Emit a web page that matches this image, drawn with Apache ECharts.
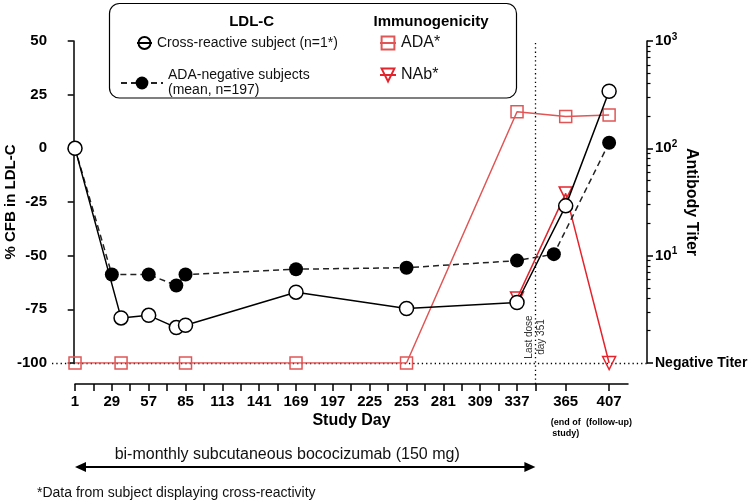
<!DOCTYPE html>
<html><head><meta charset="utf-8">
<script src="https://cdn.jsdelivr.net/npm/echarts@6/dist/echarts.min.js"></script>
<style>html,body{margin:0;padding:0;background:#fff}#c{width:750px;height:503px}</style>
</head><body><div id="c"></div>
<script>
// ---- data ----
const crossName = 'Cross-reactive subject (n=1*)';
const meanName = 'ADA-negative subjects\n(mean, n=197)';
const adaName = 'ADA*';
const nabName = 'NAb*';

const crossDays = [1, 36, 57, 78, 85, 169, 253, 337, 374, 407];
const crossLDL  = [0, -79.0, -77.8, -83.5, -82.4, -67.0, -74.6, -71.8, -26.8, 26.6];

const meanDays = [1, 29, 57, 78, 85, 169, 253, 337, 365, 407];
const meanLDL  = [0, -58.8, -58.8, -63.9, -58.8, -56.3, -55.6, -52.3, -49.3, 2.6];

const adaDays  = [1, 36, 85, 169, 253, 337, 374, 407];
const adaTiter = [1, 1, 1, 1, 1, 219, 198, 204];   // 1 = negative titer

const nabDays  = [337, 374, 407];
const nabTiter = [4, 38, 1];

const xTickValues = [1, 29, 57, 85, 113, 141, 169, 197, 225, 253, 281, 309, 337, 374, 407];
const xTickLabels = ['1','29','57','85','113','141','169','197','225','253','281','309','337','365','407'];
const xTickNotes  = ['','','','','','','','','','','','','','(end of\nstudy)','(follow-up)'];
const xTickMarks  = [1, 15, 29, 43, 57, 71, 85, 99, 113, 127, 141, 155, 169, 183, 197, 211, 225, 239, 253, 267, 281, 295, 309, 323, 337, 351, 374, 407];
const lastDoseDay = 351;

const leftTicks = { min: -100, max: 50, interval: 25 };
const negativeLDL = -100;
const titerMinorTicks = [2, 3, 4, 5, 6, 7, 8, 9, 20, 30, 40, 50, 60, 70, 80, 90, 200, 300, 400, 500, 600, 700, 800, 900];

// ---- chart ----
const RED_ADA = '#e05656';
const RED_NAB = '#e4242c';
const zip = (a, b) => a.map((v, i) => [v, b[i]]);
const supMap = { 10: '1', 100: '2', 1000: '3' };

const option = {
  animation: false,
  backgroundColor: '#fff',
  textStyle: { fontFamily: 'Liberation Sans, Arial, sans-serif', color: '#000' },
  grid: [
    { left: 52, right: 103, top: 41, bottom: 140, outerBoundsMode: 'none', containLabel: false },
    { left: 75, right: 122, top: 41, bottom: 119, outerBoundsMode: 'none', containLabel: false }
  ],
  xAxis: [
    { gridIndex: 0, type: 'value', min: -16.5, max: 435.8, show: false },
    {
      gridIndex: 1, type: 'value', min: 1, max: 421.4, position: 'bottom',
      axisLine: { show: true, onZero: false, lineStyle: { color: '#000', width: 1.5 } },
      axisTick: { show: true, customValues: xTickMarks, length: 7, lineStyle: { color: '#000', width: 1.5 } },
      axisLabel: {
        customValues: xTickValues, margin: 9, color: '#000',
        formatter: function (v) {
          const i = xTickValues.indexOf(v);
          if (i < 0) return '';
          let s = '{b|' + xTickLabels[i] + '}';
          if (xTickNotes[i]) {
            s += '\n{g| }';
            xTickNotes[i].split('\n').forEach(t => { s += '\n{s|' + t + '}'; });
          }
          return s;
        },
        rich: {
          b: { fontSize: 15, fontWeight: 'bold', lineHeight: 17, color: '#000', fontFamily: 'Liberation Sans' },
          g: { fontSize: 4, lineHeight: 7 },
          s: { fontSize: 9, fontWeight: 'bold', lineHeight: 11, color: '#000', fontFamily: 'Liberation Sans' }
        }
      },
      splitLine: { show: false },
      name: 'Study Day', nameLocation: 'middle', nameGap: 29, nameMoveOverlap: false,
      nameTextStyle: { fontWeight: 'bold', fontSize: 16, color: '#000' }
    }
  ],
  yAxis: [
    {
      gridIndex: 0, type: 'value', min: leftTicks.min, max: leftTicks.max, interval: leftTicks.interval,
      position: 'left',
      axisLine: { show: true, lineStyle: { color: '#000', width: 1.5 } },
      axisTick: { show: true, length: 6, lineStyle: { color: '#000', width: 1.5 } },
      axisLabel: { fontSize: 15, fontWeight: 'bold', color: '#000', margin: 5 },
      splitLine: { show: false },
      name: '% CFB in LDL-C', nameLocation: 'middle', nameGap: 34, nameMoveOverlap: false,
      nameTextStyle: { fontWeight: 'bold', fontSize: 15, color: '#000' }
    },
    {
      gridIndex: 0, type: 'log', logBase: 10, min: 1, max: 1000, position: 'right',
      axisLine: { show: true, lineStyle: { color: '#000', width: 1.5 } },
      axisTick: { show: true, length: 6, lineStyle: { color: '#000', width: 1.5 } },
      axisLabel: {
        margin: 8, color: '#000',
        formatter: function (v) {
          if (v === 1) return '{n|Negative Titer}';
          return '{b|10}{s|' + (supMap[v] || '') + '}';
        },
        rich: {
          n: { fontSize: 14, fontWeight: 'bold', color: '#000', fontFamily: 'Liberation Sans' },
          b: { fontSize: 15, fontWeight: 'bold', color: '#000', lineHeight: 18, fontFamily: 'Liberation Sans' },
          s: { fontSize: 10, fontWeight: 'bold', color: '#000', verticalAlign: 'top', lineHeight: 18, fontFamily: 'Liberation Sans' }
        }
      },
      splitLine: { show: false },
      name: 'Antibody Titer', nameLocation: 'middle', nameGap: 36, nameRotate: -90, nameMoveOverlap: false,
      nameTextStyle: { fontWeight: 'bold', fontSize: 16, color: '#000' }
    },
    { gridIndex: 1, type: 'value', min: 0, max: 1, show: false },
    {
      // minor ticks of the titer axis, on a linear axis of log10(titer)
      gridIndex: 0, type: 'value', min: 0, max: 3, position: 'right',
      axisLine: { show: false },
      axisTick: { show: true, customValues: titerMinorTicks.map(Math.log10), length: 3.5, lineStyle: { color: '#000', width: 1.2 } },
      axisLabel: { show: false },
      splitLine: { show: false }
    }
  ],
  legend: [
    {
      data: [{ name: crossName, itemStyle: { color: 'rgba(0,0,0,0)' } }],
      left: 136, top: 36, padding: 0, itemWidth: 15, itemHeight: 15, selectedMode: false,
      textStyle: { fontSize: 14, color: '#111' }
    },
    {
      data: [meanName],
      left: 120, top: 68, padding: 0, itemWidth: 42, itemHeight: 16, selectedMode: false,
      textStyle: { fontSize: 14, color: '#111', lineHeight: 15 }
    },
    {
      data: [adaName],
      left: 379, top: 35, padding: 0, itemWidth: 16, itemHeight: 16, selectedMode: false,
      textStyle: { fontSize: 16, color: '#111' }
    },
    {
      data: [nabName],
      left: 379, top: 67, padding: 0, itemWidth: 16, itemHeight: 16, selectedMode: false,
      textStyle: { fontSize: 16, color: '#111' }
    }
  ],
  series: [
    {
      name: adaName, type: 'line', xAxisIndex: 0, yAxisIndex: 1,
      data: zip(adaDays, adaTiter),
      symbol: 'rect', symbolSize: 12,
      itemStyle: { color: 'rgba(255,255,255,0)', borderColor: RED_ADA, borderWidth: 1.5 },
      lineStyle: { color: RED_ADA, width: 1.5 },
      z: 2
    },
    {
      name: nabName, type: 'line', xAxisIndex: 0, yAxisIndex: 1,
      data: zip(nabDays, nabTiter),
      symbol: 'triangle', symbolRotate: 180, symbolSize: 13,
      itemStyle: { color: 'rgba(255,255,255,0)', borderColor: RED_NAB, borderWidth: 1.5 },
      lineStyle: { color: RED_NAB, width: 1.5 },
      z: 3
    },
    {
      name: meanName, type: 'line', xAxisIndex: 0, yAxisIndex: 0,
      data: zip(meanDays, meanLDL),
      symbol: 'circle', symbolSize: 14,
      itemStyle: { color: '#000', borderColor: '#000', borderWidth: 0 },
      lineStyle: { color: '#222', width: 1.5, type: [6, 4] },
      z: 4
    },
    {
      name: crossName, type: 'line', xAxisIndex: 0, yAxisIndex: 0,
      data: zip(crossDays, crossLDL),
      symbol: 'circle', symbolSize: 14,
      itemStyle: { color: '#fff', borderColor: '#000', borderWidth: 1.5 },
      lineStyle: { color: '#000', width: 1.5 },
      z: 5,
      markLine: {
        silent: true, symbol: ['none', 'none'], label: { show: false },
        lineStyle: { color: '#000', width: 1.3, type: [1.3, 3] },
        data: [{ yAxis: negativeLDL }],
        z: 1
      }
    },
    {
      name: 'lastDose', type: 'line', xAxisIndex: 1, yAxisIndex: 2,
      data: [[lastDoseDay, 0.5]], symbol: 'none', lineStyle: { width: 0 },
      markLine: {
        silent: true, symbol: ['none', 'none'], label: { show: false },
        lineStyle: { color: '#000', width: 1.3, type: [1.3, 3] },
        data: [{ xAxis: lastDoseDay }]
      }
    }
  ]
};

const chart = echarts.init(document.getElementById('c'));
chart.setOption(option);

const xa = chart.convertToPixel({ xAxisIndex: 1 }, 1);
const xb = chart.convertToPixel({ xAxisIndex: 1 }, lastDoseDay);
const ay = 467;
chart.setOption({
  graphic: [
    { type: 'rect', shape: { x: 109.5, y: 3.5, width: 407, height: 94.5, r: 10 },
      style: { fill: 'none', stroke: '#000', lineWidth: 1.2 }, silent: true },
    { type: 'text', x: 251.7, y: 21.7,
      style: { text: 'LDL-C', font: 'bold 15px Liberation Sans', fill: '#000', align: 'center', verticalAlign: 'middle' } },
    { type: 'text', x: 431, y: 21.7,
      style: { text: 'Immunogenicity', font: 'bold 15px Liberation Sans', fill: '#000', align: 'center', verticalAlign: 'middle' } },
    { type: 'text', x: xb, y: 337, rotation: Math.PI / 2,
      style: { text: 'Last dose\nday 351', font: '10px Liberation Sans', lineHeight: 12, fill: '#333', align: 'center', verticalAlign: 'middle' } },
    { type: 'line', shape: { x1: xa + 8, y1: ay, x2: xb - 8, y2: ay }, style: { stroke: '#000', lineWidth: 1.8 } },
    { type: 'polygon', shape: { points: [[xa, ay], [xa + 11, ay - 5], [xa + 11, ay + 5]] }, style: { fill: '#000' } },
    { type: 'polygon', shape: { points: [[xb, ay], [xb - 11, ay - 5], [xb - 11, ay + 5]] }, style: { fill: '#000' } },
    { type: 'text', x: (xa + xb) / 2 - 18, y: 455,
      style: { text: 'bi-monthly subcutaneous bococizumab (150 mg)', font: '16px Liberation Sans', fill: '#111', align: 'center', verticalAlign: 'middle' } },
    { type: 'text', x: 37, y: 493,
      style: { text: '*Data from subject displaying cross-reactivity', font: '14px Liberation Sans', fill: '#111', align: 'left', verticalAlign: 'middle' } }
  ]
});
</script>
</body></html>
